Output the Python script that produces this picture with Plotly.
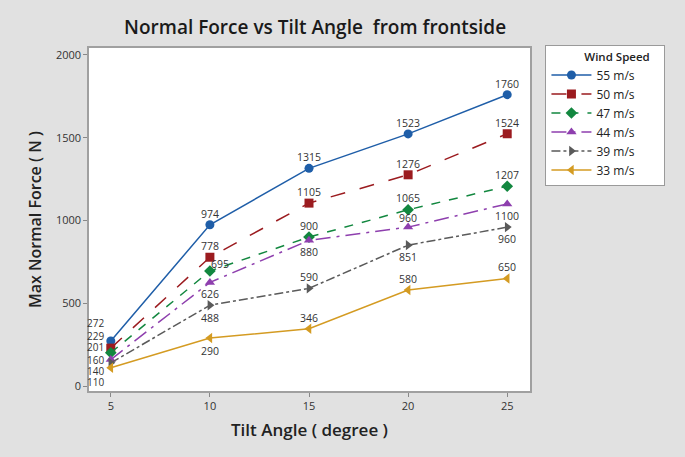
import plotly.graph_objects as go

tilt = [5, 10, 15, 20, 25]
series_names = ["55 m/s", "50 m/s", "47 m/s", "44 m/s", "39 m/s", "33 m/s"]
v55 = [272, 974, 1315, 1523, 1760]
v50 = [229, 778, 1105, 1276, 1524]
v47 = [201, 695, 900, 1065, 1207]
v44 = [160, 626, 880, 960, 1100]
v39 = [140, 488, 590, 851, 960]
v33 = [110, 290, 346, 580, 650]
values = [v55, v50, v47, v44, v39, v33]

colors = ["#1f5ea8", "#9b1b1f", "#12873f", "#8e3fae", "#5a5a5a", "#d49b22"]
dashes = ["solid", "longdash", "dash", "longdashdot", "dashdot", "solid"]
symbols = ["circle", "square", "diamond", "triangle-up", "triangle-right", "triangle-left"]

FONT = "Open Sans, Noto Sans, sans-serif"

# label offsets (xshift, yshift) in pixels per point
offsets = [
    [(-6, 18), (0, 11), (0, 11), (0, 11), (0, 11)],
    [(-6, 12), (0, 11), (0, 11), (0, 11), (0, 11)],
    [(-6, 6), (10, 7), (0, 11), (0, 12), (0, 11)],
    [(-6, 0), (0, -12), (0, -12), (0, 9), (0, -12)],
    [(-6, -8), (0, -13), (0, 11), (0, -12), (0, -12)],
    [(-6, -14), (0, -13), (0, 11), (0, 11), (0, 11)],
]

fig = go.Figure()
annotations = []
for name, vals, c, d, s, offs in zip(series_names, values, colors, dashes, symbols, offsets):
    fig.add_trace(go.Scatter(
        x=tilt, y=vals, name=name, mode="lines+markers",
        line=dict(color=c, width=1.5, dash=d),
        marker=dict(symbol=s, size=9, color=c),
    ))
    for i, (xv, yv) in enumerate(zip(tilt, vals)):
        xs, ys = offs[i]
        annotations.append(dict(
            x=xv, y=yv, xref="x", yref="y", text=str(yv), showarrow=False,
            xanchor="right" if i == 0 else "center", yanchor="middle",
            xshift=xs, yshift=ys, borderpad=0,
            font=dict(family=FONT, size=10 if i == 0 else 10.5, color="#333333"),
        ))

NB = "\u00a0"
fig.update_layout(
    width=685, height=457,
    paper_bgcolor="#e1e1e1", plot_bgcolor="#ffffff",
    margin=dict(l=89, r=155, t=48, b=66),
    hovermode=False,
    title=dict(text="Normal Force vs Tilt Angle  from frontside", x=0.46, xanchor="center",
               y=0.94, yanchor="middle",
               font=dict(family=FONT, size=19, color="#1a1a1a", weight=600)),
    font=dict(family=FONT, color="#333333"),
    annotations=annotations,
    legend=dict(
        x=1.035, y=1.01, xanchor="left", yanchor="top",
        bgcolor="#ffffff", bordercolor="#9a9a9a", borderwidth=1,
        title=dict(text=NB * 12 + "Wind Speed" + NB * 4, side="top",
                   font=dict(size=11.5, color="#222222", family=FONT, weight=600)),
        font=dict(size=12, color="#222222", family=FONT),
        tracegroupgap=0, itemwidth=40,
    ),
)
fig.update_xaxes(
    range=[3.9, 26.15], tickvals=tilt, showgrid=False, zeroline=False, automargin=False,
    showline=True, linecolor="#a0a0a0", linewidth=1.5, mirror=True,
    ticks="outside", ticklen=4, tickcolor="#888888",
    tickfont=dict(size=11, color="#333333"),
    title=dict(text="Tilt Angle ( degree )", font=dict(size=17, color="#222222", weight=600), standoff=12),
)
fig.update_yaxes(
    range=[-30, 2042], tickvals=[0, 500, 1000, 1500, 2000], showgrid=False, zeroline=False,
    automargin=False,
    showline=True, linecolor="#a0a0a0", linewidth=1.5, mirror=True,
    ticks="outside", ticklen=4, tickcolor="#888888",
    tickfont=dict(size=11, color="#333333"),
    title=dict(text="Max Normal Force ( N )", font=dict(size=16, color="#222222", weight=600), standoff=10),
)

fig.write_html(
    "out.html",
    config={"displayModeBar": False},
    post_script="document.body.style.margin='0';document.body.style.background='#e1e1e1';",
)
